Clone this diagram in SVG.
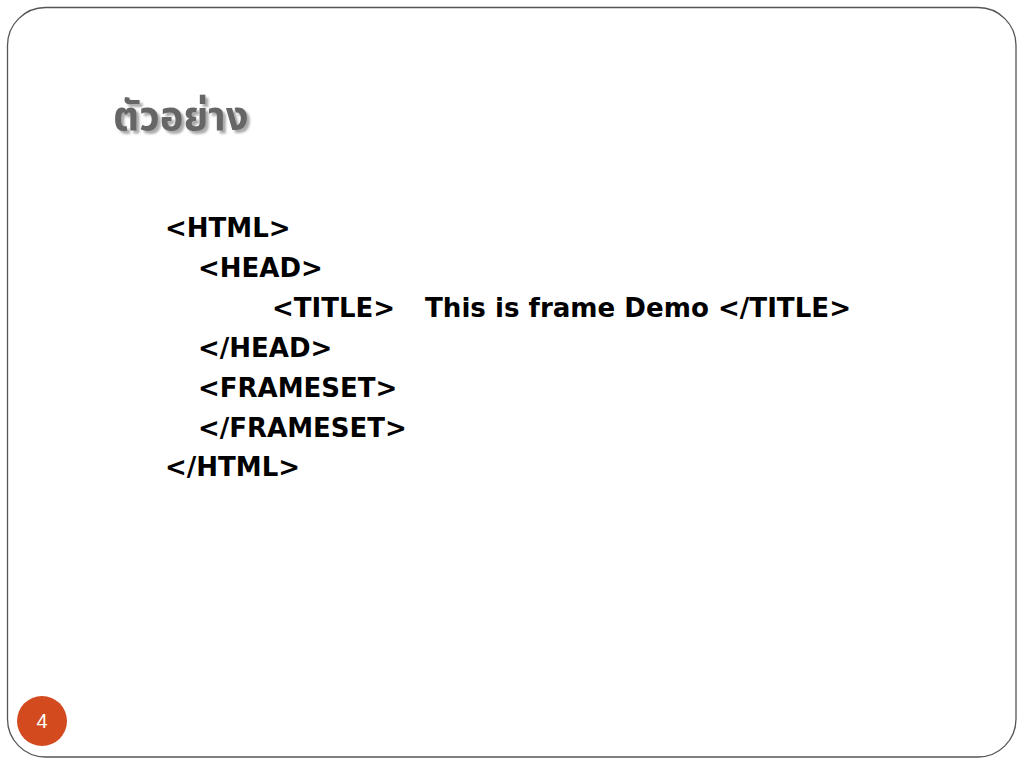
<svg xmlns="http://www.w3.org/2000/svg" width="1024" height="768" viewBox="0 0 1024 768">
<style>
.code{font-family:"DejaVu Sans","Liberation Sans",sans-serif;font-weight:bold;font-size:26px;fill:#000}
.title{font-family:"Noto Sans Thai","Tahoma","DejaVu Sans","Noto Sans",sans-serif;font-weight:bold;font-size:40px;fill:#666}
</style>
<defs>
<filter id="shadow" x="-10%" y="-20%" width="130%" height="150%">
<feDropShadow dx="3" dy="3" stdDeviation="0.8" flood-color="#aaa" flood-opacity="1"/>
</filter>
</defs>
<rect width="1024" height="768" fill="#fff"/>
<rect id="frame" x="7.5" y="7.5" width="1008.5" height="749.5" rx="38" ry="38" fill="#fff" stroke="#555" stroke-width="1.3"/>
<g id="title">
<text class="title" x="113" y="130" filter="url(#shadow)">ตัวอย่าง</text>
</g>
<g id="code">
<text class="code" x="165" y="237">&lt;HTML&gt;</text>
<text class="code" x="198" y="277">&lt;HEAD&gt;</text>
<text class="code" x="272" y="317">&lt;TITLE&gt;</text>
<text class="code" x="425" y="317" textLength="426" lengthAdjust="spacingAndGlyphs">This is frame Demo &lt;/TITLE&gt;</text>
<text class="code" x="198" y="357">&lt;/HEAD&gt;</text>
<text class="code" x="198" y="397">&lt;FRAMESET&gt;</text>
<text class="code" x="198" y="437">&lt;/FRAMESET&gt;</text>
<text class="code" x="165" y="476">&lt;/HTML&gt;</text>
</g>
<g id="page-number">
<circle cx="42" cy="721" r="25" fill="#D24A1E"/>
<text x="42" y="728" text-anchor="middle" font-family="Liberation Sans,Arial,sans-serif" font-size="20" fill="#fff">4</text>
</g>
</svg>
